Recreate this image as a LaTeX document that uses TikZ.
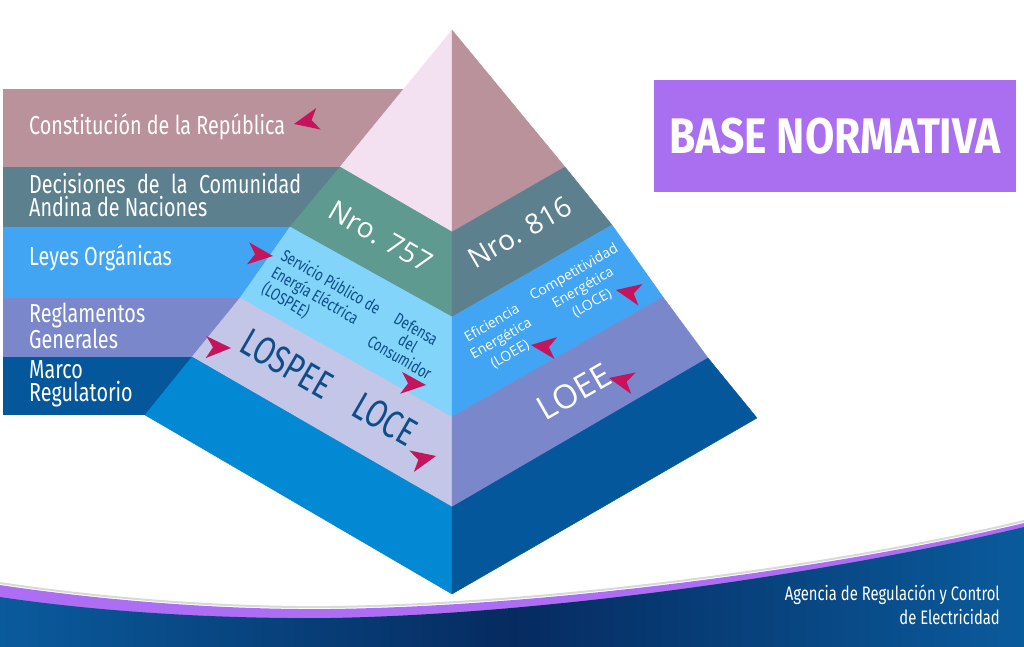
\documentclass[tikz,border=0pt]{standalone}
\usepackage{fontspec}
\setmainfont{Fira Sans}
\newfontfamily\condfont[FakeStretch=0.76]{Fira Sans}
\newfontfamily\headfont[FakeStretch=0.85]{Fira Sans}
\newfontfamily\roundfont{Open Sans}
\usetikzlibrary{calc}

\definecolor{topL}{HTML}{F3E1F1}
\definecolor{topR}{HTML}{BA929B}
\definecolor{nroL}{HTML}{5E9A8F}
\definecolor{nroR}{HTML}{5D808F}
\definecolor{leyL}{HTML}{82D4FA}
\definecolor{leyR}{HTML}{41A5F3}
\definecolor{regL}{HTML}{C4C6E8}
\definecolor{regR}{HTML}{7B87CB}
\definecolor{marL}{HTML}{0388D3}
\definecolor{marR}{HTML}{04579A}
\definecolor{lawblue}{HTML}{0D4E89}
\definecolor{dartred}{HTML}{C5145B}
\definecolor{boxpurple}{HTML}{A96FF0}
\definecolor{stripe}{HTML}{AE6EF4}
\definecolor{footblue}{HTML}{0A5B9C}
\definecolor{footdark}{HTML}{062B60}

\tikzset{
    face/.style={fill=#1,draw=#1,line width=.4pt,line join=round},
    strip label/.style={anchor=west,inner sep=0pt,align=left,text=white,
        font=\condfont\fontsize{26}{23}\selectfont},
    law label/.style={inner sep=0pt,text=lawblue,font=\condfont\fontsize{#1}{#1}\selectfont},
    law label/.default=17,
    round label/.style={inner sep=0pt,text=white,font=\roundfont\fontsize{#1}{#1}\selectfont},
    round label/.default=14,
    dart fill/.style={fill=dartred},
}
\newcommand{\dartat}[3]{%
    \fill[dart fill,shift={(#1,#2)},rotate=#3] (0,0) -- (-25,-11) -- (-18,0) -- (-25,11) -- cycle;}

\begin{document}
\begin{tikzpicture}[x=1pt,y=-1pt]
    \useasboundingbox (0,0) rectangle (1024,647);

    % strips behind the pyramid
    \foreach \ya/\yb/\cl in {89/167/topR,167/227/nroR,227/298/leyR,298/357/regR,357/415/marR}
        \fill[\cl] (3,\ya) rectangle (452,\yb);

    \node[strip label] (constitucion) at (29,127) {Constitución de la República};
    \node[strip label] (decisiones) at (29,195) {\makebox[272pt][s]{Decisiones de la Comunidad}\\Andina de Naciones};
    \node[strip label] (leyes) at (29,258) {Leyes Orgánicas};
    \node[strip label] (reglamentos) at (29,326) {Reglamentos\\Generales};
    \node[strip label] (marco) at (29,384) {Marco\\Regulatorio};

    % pyramid
    \coordinate (apex) at (452,30);
    \foreach \i/\x/\y/\r/\yr in {1/340/167/565/167,2/290/227/612/225,3/240/298/663/297,4/192/357/708/358,5/145/415/757/418}{
        \coordinate (L\i) at (\x,\y);
        \coordinate (R\i) at (\r,\yr);
    }
    \foreach \i/\y in {1/232,2/317,3/417,4/507,5/594}
        \coordinate (C\i) at (452,\y);

    \fill[face=topL] (apex) -- (L1) -- (C1) -- cycle;
    \fill[face=topR] (apex) -- (C1) -- (R1) -- cycle;
    \foreach \i/\j/\cl/\cr in {1/2/nroL/nroR,2/3/leyL/leyR,3/4/regL/regR,4/5/marL/marR}{
        \fill[face=\cl] (L\i) -- (C\i) -- (C\j) -- (L\j) -- cycle;
        \fill[face=\cr] (C\i) -- (R\i) -- (R\j) -- (C\j) -- cycle;
    }

    \node[round label=28,rotate=-30] (nro757) at (381,237) {Nro. 757};
    \node[round label=28,rotate=30] (nro816) at (520,232) {Nro. 816};
    \node[law label,rotate=-30,align=left,font=\condfont\fontsize{17}{19.5}\selectfont] (lospeefull) at (321,299) {Servicio Público de\\Energía Eléctrica\\(LOSPEE)};
    \node[law label,rotate=-30,align=center,font=\condfont\fontsize{17}{16.5}\selectfont] (defensa) at (408,343) {Defensa\\del\\Consumidor};
    \node[law label=39,rotate=-30] (lospee) at (287,364) {LOSPEE};
    \node[law label=39,rotate=-30] (loce) at (385,419) {LOCE};
    \node[round label,rotate=30,align=center,font=\roundfont\fontsize{14}{18}\selectfont] (eficiencia) at (501,339) {Eficiencia\\Energética\\(LOEE)};
    \node[round label,rotate=30,align=center,font=\roundfont\fontsize{14}{18}\selectfont] (competitividad) at (583,288) {Competitividad\\Energética\\(LOCE)};
    \node[round label=33,rotate=30] (loee) at (574,392) {LOEE};

    % darts
    \dartat{294}{124}{192}
    \dartat{273}{256}{-6}
    \dartat{231}{348}{-2}
    \dartat{426}{385}{-5}
    \dartat{436}{456}{12}
    \dartat{531}{345}{173}
    \dartat{616}{290}{169}
    \dartat{609}{378}{168}

    \node[fill=boxpurple,minimum width=362,minimum height=112,inner sep=0pt,text=white,
        font=\headfont\fontsize{50}{50}\selectfont\bfseries] (base) at (835,136) {BASE NORMATIVA};

    % footer wave
    \draw[black!15,line width=2pt] (0,583) .. controls (100,598) and (220,608) .. (330,607) .. controls (560,604) and (850,563) .. (1024,521);
    \fill[stripe] (0,585) .. controls (100,600) and (220,610) .. (330,609) .. controls (560,606) and (850,565) .. (1024,523) -- (1024,647) -- (0,647) -- cycle;
    \shade[left color=footblue,right color=footblue,middle color=footdark]
        (0,597) .. controls (100,612) and (220,619) .. (330,618) .. controls (560,614) and (850,569) .. (1024,527) -- (1024,647) -- (0,647) -- cycle;
    \node[anchor=east,inner sep=0pt,align=right,text=white,font=\condfont\fontsize{19.5}{24}\selectfont] (agencia) at (1000,605) {Agencia de Regulación y Control\\de Electricidad};
\end{tikzpicture}
\end{document}
